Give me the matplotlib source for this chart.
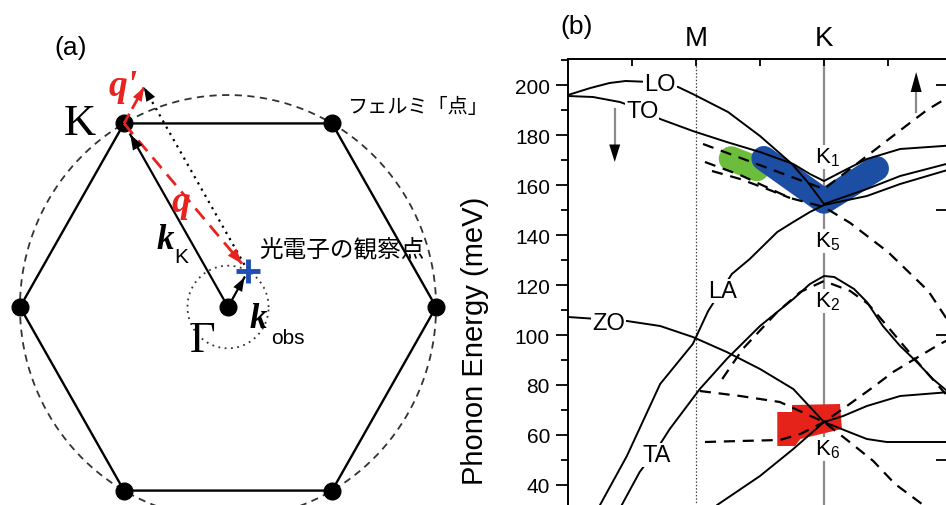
import numpy as np
import matplotlib
matplotlib.use("Agg")
import matplotlib.pyplot as plt

plt.rcParams['font.family'] = ['Liberation Sans', 'Noto Sans CJK JP', 'DejaVu Sans']
plt.rcParams['mathtext.default'] = 'regular'

# ---------------- (b) phonon dispersion: x in path units (M = 2, K = 4), energy in meV
lo_x = [0, 0.35, 0.65, 0.9, 1.3, 1.72, 1.95, 2.5, 3.0, 3.5, 3.75, 4.0, 4.67, 5.19, 5.97]
lo_y = [196, 198.8, 200.8, 201.6, 201.2, 199.2, 196.4, 189.2, 179.6, 168.4, 161, 152.4, 158.4, 163.6, 168.8]

to_x = [0, 0.39, 0.81, 1.12, 1.44, 1.95, 2.48, 3.0, 3.52, 3.78, 4.0, 4.3, 4.67, 5.19, 5.97]
to_y = [195.6, 195.2, 193.2, 190.4, 186.4, 181.6, 177.2, 173.2, 168.4, 164.4, 161.6, 165.6, 170.4, 174.4, 175.8]

la_x = [0.42, 0.5, 0.92, 1.44, 1.95, 2.19, 2.56, 2.84, 3.27, 3.52, 3.78, 4.0, 4.67, 5.19, 5.97]
la_y = [28, 32, 51.6, 80.4, 96.4, 109.6, 124.4, 130.4, 141.2, 145.2, 149.2, 152, 155.6, 160.4, 166.3]

ta_x = [0.78, 0.84, 1.12, 1.39, 1.59, 2.06, 2.48, 3.0, 3.52, 3.78, 4.0, 4.16, 4.47, 4.67,
        4.92, 5.19, 5.45, 5.7, 5.97]
ta_y = [28, 32, 45.2, 54.4, 62.4, 78.4, 90.4, 103.6, 114.4, 120.4, 123.6, 123.2, 118.4, 113.2,
        103.6, 95.6, 89.2, 82.4, 76.6]

za_x = [2.2, 2.33, 3.0, 3.52, 4.0, 4.3, 4.67, 5.19, 5.97]
za_y = [28, 32, 43.6, 54.4, 65.2, 67.6, 71.6, 75.6, 77.2]

zo_x = [0, 0.92, 1.44, 1.95, 2.48, 3.0, 3.52, 4.0, 4.47, 4.67, 4.98, 5.39, 5.97]
zo_y = [107.2, 105.6, 103.6, 99.2, 93.2, 86.4, 78.4, 65.2, 60.4, 58.4, 57.2, 57.2, 57.2]

# dashed (shifted) branches
da_x = [2.11, 4.0, 5.28, 5.61, 5.97]
da_y = [176.4, 158.4, 183.6, 190, 195.6]
db_x = [2.14, 2.69, 3.47, 4.0, 4.41, 5.0, 5.63, 5.97]
db_y = [169.2, 164, 154.8, 151.2, 144.8, 133.2, 117.6, 104.4]
db2_x = [2.25, 2.69, 3.11, 3.47]
db2_y = [165.6, 162.4, 158.4, 154.8]
dc_x = [2.06, 2.69, 3.31, 4.0, 4.38, 4.77, 5.11, 5.53, 5.97]
dc_y = [77.6, 75.6, 73.2, 65.2, 57.6, 49.6, 40.4, 32.4, 23]
dd_x = [2.14, 2.69, 3.31, 3.63, 4.0, 4.38, 4.77, 5.08, 5.81, 5.97]
dd_y = [57.2, 57.6, 58, 60.4, 65.2, 72, 79.2, 85.2, 96.4, 98.4]
de_x = [2.41, 2.73, 3.27, 3.63, 4.0, 4.41, 4.69, 5.0, 5.42, 5.9]
de_y = [82.4, 94.4, 109.2, 117.2, 121.6, 117.6, 112.4, 103.2, 90.4, 76.4]

# observed kink regions
green_x = [2.55, 2.95]
green_y = [170.5, 166.5]
blue_x = [3.06, 4.0, 4.82]
blue_y = [170.6, 153.5, 166.6]
red_x = [3.27, 3.5, 3.5, 4.25, 4.28, 3.63, 3.55, 3.27]
red_y = [69.2, 69.2, 72, 72.4, 62.4, 58.4, 55.6, 55.6]

branch_labels = ['LO', 'TO', 'LA', 'ZO', 'TA']
branch_label_x = [1.44, 1.16, 2.42, 0.63, 1.39]
branch_label_y = [200.6, 189.6, 117.6, 104.8, 52]

k_labels = ['K_1', 'K_5', 'K_2', 'K_6']
k_label_y = [171.2, 137.6, 113.6, 54.4]

yticks = np.arange(40, 201, 20)
right_ticks = [50, 100, 150, 200]
top_ticks = [1, 2, 3, 4, 5]
top_labels = ['', 'M', '', 'K', '']

# ---------------- (a) Brillouin zone sketch, |Gamma-K| = 1
hex_ang = np.radians(np.arange(0, 360, 60))
k_obs = np.array([0.096, 0.170])
small_r = 0.195

fig = plt.figure(figsize=(9.46, 5.06), dpi=100)


def head(ax, tip, direction, color, scale=20, hl=0.55, hw=0.2):
    d = np.asarray(direction, float)
    d = d / np.hypot(*d)
    tail = np.asarray(tip) - 0.05 * d
    ax.annotate('', xy=tip, xytext=tail,
                arrowprops=dict(arrowstyle='-|>,head_length=%g,head_width=%g' % (hl, hw),
                                color=color, lw=0, shrinkA=0, shrinkB=0,
                                mutation_scale=scale), zorder=6)


ax_a = fig.add_axes([0, 0, 470 / 946, 1])
ax_a.set_xlim(-1.096, 1.163)
ax_a.set_ylim(-0.934, 1.453)
ax_a.axis('off')

hx, hy = np.cos(hex_ang), np.sin(hex_ang)
ax_a.plot(np.append(hx, hx[0]), np.append(hy, hy[0]), color='black', lw=1.7, zorder=2)
t = np.linspace(0, 2 * np.pi, 500)
ax_a.plot(np.cos(t), np.sin(t), color='#333333', lw=1.3, ls=(0, (4, 3)), zorder=1)
ax_a.plot(small_r * np.cos(t), small_r * np.sin(t), color='#333333', lw=1.3,
          ls=(0, (1, 2.5)), zorder=1)
ax_a.plot(hx, hy, 'o', ms=12, color='black', zorder=4)
ax_a.plot([0], [0], 'o', ms=12, color='black', zorder=4)

K = np.array([hx[2], hy[2]])
G = np.zeros(2)
Kq = K + k_obs

# k_K arrow
tipK = K + 0.06 * (G - K) / np.hypot(*(G - K))
ax_a.plot([G[0], tipK[0]], [G[1], tipK[1]], color='black', lw=1.6, zorder=3)
head(ax_a, tipK, K - G, 'black')

# k_obs arrow
tipO = k_obs * 0.82
ax_a.plot([0, tipO[0]], [0, tipO[1]], color='black', lw=1.6, zorder=3)
head(ax_a, tipO, k_obs, 'black', scale=18)

# dotted copy of k_K starting from the observation point
ax_a.plot([k_obs[0], Kq[0]], [k_obs[1], Kq[1]], color='black', lw=1.6,
          ls=(0, (1, 2.2)), zorder=3)
head(ax_a, Kq, Kq - k_obs, 'black', scale=18)

# q and q' (red dashed)
tipq = k_obs - 0.045 * (k_obs - K) / np.hypot(*(k_obs - K))
ax_a.plot([K[0], tipq[0]], [K[1], tipq[1]], color='#e8231f', lw=2.0,
          ls=(0, (5, 3)), zorder=5)
head(ax_a, tipq, k_obs - K, '#e8231f', scale=20)
ax_a.plot([K[0], Kq[0]], [K[1], Kq[1]], color='#e8231f', lw=2.0,
          ls=(0, (4, 2)), zorder=5)
head(ax_a, Kq, k_obs, '#e8231f', scale=18)

ax_a.plot([k_obs[0]], [k_obs[1]], marker='+', ms=17, mew=3.5, color='#1f4fb5', zorder=7)

serif_bi = dict(family='Liberation Serif', weight='bold', style='italic')
ax_a.text(-0.755, 1.226, '(a)', fontsize=19, ha='center', va='center')
ax_a.text(-0.712, 0.868, 'K', fontsize=32, family='Liberation Serif', ha='center', va='center')
ax_a.text(-0.12, -0.156, 'Γ', fontsize=32, family='Liberation Serif', ha='center', va='center')
ax_a.text(-0.505, 1.045, "q'", fontsize=27, color='#e8231f', ha='center', va='center', **serif_bi)
ax_a.text(-0.226, 0.50, 'q', fontsize=27, color='#e8231f', ha='center', va='center', **serif_bi)
ax_a.text(-0.303, 0.318, 'k', fontsize=25, ha='center', va='center', **serif_bi)
ax_a.text(-0.226, 0.236, 'K', fontsize=15, ha='center', va='center')
ax_a.text(0.144, -0.055, 'k', fontsize=25, ha='center', va='center', **serif_bi)
ax_a.text(0.288, -0.142, 'obs', fontsize=15, ha='center', va='center')
ax_a.text(0.57, 0.948, 'フェルミ「点」', fontsize=14.5, ha='left', va='center',
          family=['Noto Sans CJK JP'])
ax_a.text(0.152, 0.274, '光電子の観察点', fontsize=17, ha='left', va='center',
          family=['Noto Sans CJK JP'])

# ---------------- (b)
ax_b = fig.add_axes([568 / 946, -80 / 506, 382 / 946, 526 / 506])
ax_b.set_xlim(0, 382 / 64)
ax_b.set_ylim(0, 210.4)
for s in ['bottom', 'right']:
    ax_b.spines[s].set_visible(False)
for s in ['left', 'top']:
    ax_b.spines[s].set_linewidth(1.4)

ax_b.set_yticks(yticks)
ax_b.set_yticks(np.arange(30, 211, 10), minor=True)
ax_b.tick_params(axis='y', which='major', direction='out', length=9, width=1.3,
                 labelsize=15, pad=4)
ax_b.tick_params(axis='y', which='minor', direction='out', length=5, width=1.3)
ax_b.set_xticks(top_ticks)
ax_b.set_xticklabels(top_labels)
ax_b.tick_params(axis='x', bottom=False, labelbottom=False, top=True, labeltop=True,
                 direction='in', length=5, width=1.3, labelsize=20, pad=6)

sec = ax_b.secondary_yaxis('right')
sec.set_yticks(right_ticks)
sec.tick_params(direction='in', length=10, width=1.3, labelright=False)
sec.spines['right'].set_visible(False)

ax_b.axvline(2, color='#444444', lw=0.9, ls=(0, (1.2, 1.5)), zorder=1)
ax_b.axvline(4, color='#8c8c8c', lw=1.6, zorder=1)

ax_b.plot(green_x, green_y, color='#6cbd3c', lw=18, solid_capstyle='round', zorder=2)
ax_b.plot(blue_x, blue_y, color='#1c4ea3', lw=18, solid_capstyle='round',
          solid_joinstyle='round', zorder=2)
ax_b.fill(red_x, red_y, color='#e5231b', lw=0, zorder=2)

for xs, ys in [(lo_x, lo_y), (to_x, to_y), (la_x, la_y), (ta_x, ta_y), (za_x, za_y), (zo_x, zo_y)]:
    ax_b.plot(xs, ys, color='black', lw=1.4, zorder=3)
for xs, ys in [(da_x, da_y), (db_x, db_y), (db2_x, db2_y), (dc_x, dc_y), (dd_x, dd_y), (de_x, de_y)]:
    ax_b.plot(xs, ys, color='black', lw=1.6, ls=(0, (5, 3.5)), zorder=3)

for lab, x, y in zip(branch_labels, branch_label_x, branch_label_y):
    ax_b.text(x, y, lab, fontsize=17, ha='center', va='center', zorder=5,
              bbox=dict(fc='white', ec='none', pad=0.6))
for lab, y in zip(k_labels, k_label_y):
    ax_b.text(3.86, y, r'$\mathregular{%s}$' % lab, fontsize=16, ha='left', va='center',
              zorder=4, bbox=dict(fc='white', ec='none', pad=0.5))

# shift arrows
ax_b.plot([0.73, 0.73], [190.4, 174], color='#8a8a8a', lw=1.6, zorder=3)
head(ax_b, (0.73, 169.2), (0, -1), 'black', scale=18, hl=0.7, hw=0.22)
ax_b.plot([5.44, 5.44], [189.2, 200], color='#8a8a8a', lw=1.6, zorder=3)
head(ax_b, (5.44, 205.2), (0, 1), 'black', scale=18, hl=0.8, hw=0.22)

fig.text(577 / 946, 1 - 27 / 506, '(b)', fontsize=19, ha='center', va='center')
fig.text(475 / 946, 1 - 341 / 506, 'Phonon Energy (meV)', fontsize=21, rotation=90,
         ha='center', va='center')

fig.savefig('out.png', dpi=100)
